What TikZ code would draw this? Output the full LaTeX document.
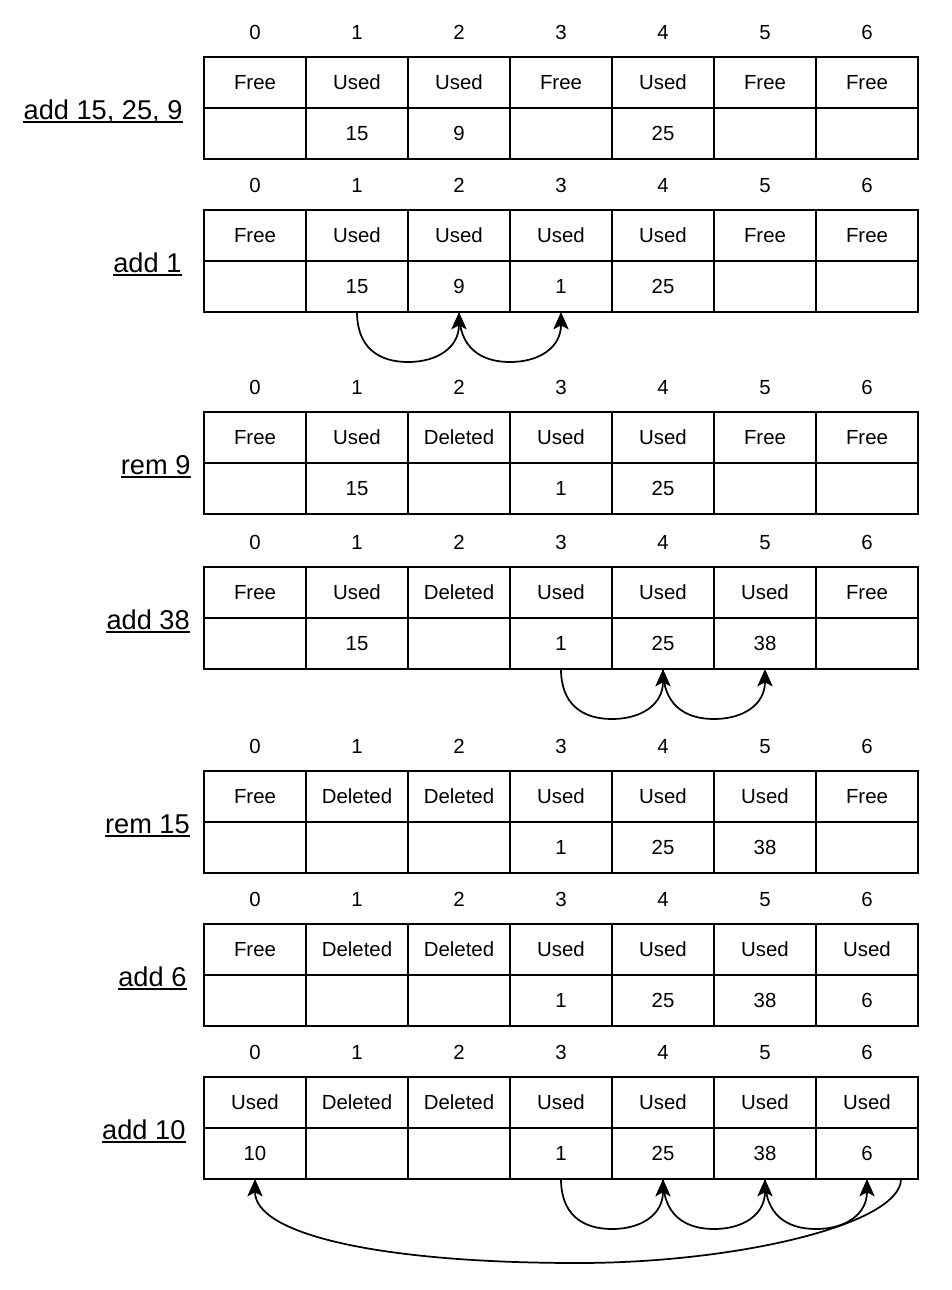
\documentclass[tikz,border=0pt]{standalone}
\usepackage{fontspec}
\setmainfont{Liberation Sans}
\usetikzlibrary{arrows.meta,calc}
\newcommand\cellfont{\fontsize{15.3}{18}\selectfont}
\newcommand\lblfont{\fontsize{20.4}{24}\selectfont}
\tikzset{
  cell/.style={draw, line width=1.3pt, minimum width=76.5pt, minimum height=38.25pt, inner sep=0pt, outer sep=0pt, font=\cellfont, text height=11pt, text depth=0pt},
  idx/.style={inner sep=0pt, font=\cellfont, text height=11pt, text depth=0pt},
  lbl/.style={anchor=base east, inner sep=0pt, font=\lblfont},
  uline/.style={line width=1.4pt},
  arr/.style={line width=1.3pt, -{Stealth[length=13pt,width=11.5pt,inset=3pt]}},
}
\newcommand\mktable[6]{%
  \foreach \s [count=\j from 0] in {#3} {
    \node[cell] (t#1s\j) at ({255+102*\j},{#2+25.5}) {\s};
    \node[idx] (t#1i\j) at ({255+102*\j},{#2-25}) {\j};
  }
  \foreach \v [count=\j from 0] in {#4} {
    \node[cell] (t#1v\j) at ({255+102*\j},{#2+76.5}) {\v};
  }
  \node[lbl] (l#1) at (#6,{#2+51+11}) {#5};
  \draw[uline] ($(l#1.base west)+(0,3)$) -- ($(l#1.base east)+(0,3)$);
}
\newcommand\hop[2]{%
  \draw[arr] (#1.south) .. controls +(0,35) and +(-30,0) .. ($(#1.south)!0.5!(#2.south)+(0,50)$) .. controls +(30,0) and +(0,35) .. (#2.south);
}
\begin{document}
\begin{tikzpicture}[x=0.75pt,y=-0.75pt]
\useasboundingbox (0,0) rectangle (951,1290);
\mktable{1}{57}{Free,Used,Used,Free,Used,Free,Free}{{},15,9,{},25,{},{}}{add 15, 25, 9}{182.7}
\mktable{2}{210}{Free,Used,Used,Used,Used,Free,Free}{{},15,9,1,25,{},{}}{add 1}{181.7}
\mktable{3}{412}{Free,Used,Deleted,Used,Used,Free,Free}{{},15,{},1,25,{},{}}{rem 9}{190.7}
\mktable{4}{567}{Free,Used,Deleted,Used,Used,Used,Free}{{},15,{},1,25,38,{}}{add 38}{190}
\mktable{5}{771}{Free,Deleted,Deleted,Used,Used,Used,Free}{{},{},{},1,25,38,{}}{rem 15}{190}
\mktable{6}{924}{Free,Deleted,Deleted,Used,Used,Used,Used}{{},{},{},1,25,38,6}{add 6}{186.7}
\mktable{7}{1077}{Used,Deleted,Deleted,Used,Used,Used,Used}{10,{},{},1,25,38,6}{add 10}{185.7}
\hop{t2v1}{t2v2}
\hop{t2v2}{t2v3}
\hop{t4v3}{t4v4}
\hop{t4v4}{t4v5}
\hop{t7v3}{t7v4}
\hop{t7v4}{t7v5}
\hop{t7v5}{t7v6}
\coordinate (bs) at ($(t7v6.south east)+(-17,0)$);
\draw[arr] (bs) .. controls +(0,45) and +(160,0) .. ($(t7v0.south)!0.5!(bs)+(0,84)$) .. controls +(-200,0) and +(0,55) .. (t7v0.south);
\end{tikzpicture}
\end{document}
